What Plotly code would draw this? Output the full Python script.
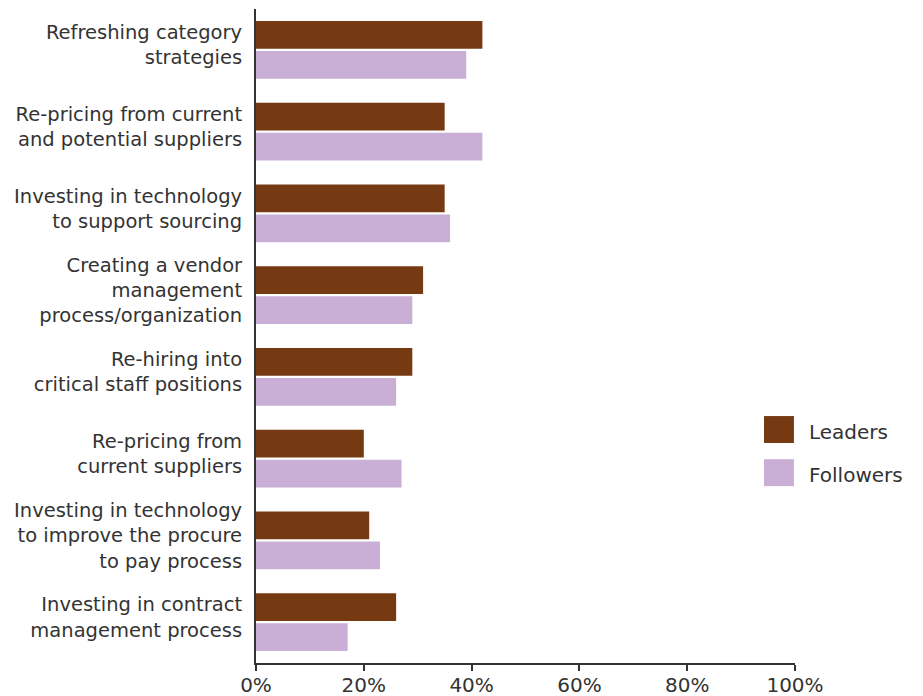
import plotly.graph_objects as go

categories = [
    "Refreshing category<br>strategies",
    "Re-pricing from current<br>and potential suppliers",
    "Investing in technology<br>to support sourcing",
    "Creating a vendor<br>management<br>process/organization",
    "Re-hiring into<br>critical staff positions",
    "Re-pricing from<br>current suppliers",
    "Investing in technology<br>to improve the procure<br>to pay process",
    "Investing in contract<br>management process",
]
leaders = [42, 35, 35, 31, 29, 20, 21, 26]
followers = [39, 42, 36, 29, 26, 27, 23, 17]
x_ticks = [0, 20, 40, 60, 80, 100]
x_tick_labels = ["0%", "20%", "40%", "60%", "80%", "100%"]

LEADERS_COLOR = "#763A12"
FOLLOWERS_COLOR = "#C9AFD5"
TEXT_COLOR = "#333333"
FONT = "DejaVu Sans"

fig = go.Figure()
fig.add_trace(go.Bar(name="Leaders", y=categories, x=leaders, orientation="h",
                     marker=dict(color=LEADERS_COLOR, line=dict(width=0)),
                     showlegend=False))
fig.add_trace(go.Bar(name="Followers", y=categories, x=followers, orientation="h",
                     marker=dict(color=FOLLOWERS_COLOR, line=dict(width=0)),
                     showlegend=False))

# Legend drawn as large swatches with labels, to the right of the bars
legend_items = [("Leaders", LEADERS_COLOR, 0.357), ("Followers", FOLLOWERS_COLOR, 0.291)]
for label, color, yc in legend_items:
    fig.add_shape(type="rect", xref="paper", yref="paper",
                  x0=0.9425, x1=0.998, y0=yc - 0.0206, y1=yc + 0.0206,
                  fillcolor=color, line=dict(width=0))
    fig.add_annotation(xref="paper", yref="paper", x=1.022, y=yc, yshift=-2,
                       text=label, showarrow=False,
                       xanchor="left", yanchor="middle",
                       font=dict(family=FONT, size=20, color=TEXT_COLOR))

fig.update_layout(
    width=923, height=696,
    margin=dict(l=256, r=128, t=9, b=33, autoexpand=False),
    paper_bgcolor="white", plot_bgcolor="white",
    barmode="group", bargap=0.267, bargroupgap=0.067,
    font=dict(family=FONT, size=19.5, color=TEXT_COLOR),
    xaxis=dict(range=[0, 100], tickvals=x_ticks, ticktext=x_tick_labels,
               showgrid=False, zeroline=False, showline=True,
               linecolor=TEXT_COLOR, linewidth=2, ticks="outside",
               ticklen=6, tickwidth=2, tickcolor=TEXT_COLOR,
               ticklabelstandoff=-3,
               tickfont=dict(family=FONT, size=20, color=TEXT_COLOR)),
    yaxis=dict(autorange="reversed", showgrid=False, zeroline=False,
               showline=True, linecolor=TEXT_COLOR, linewidth=2,
               ticks="", ticklabelstandoff=8, ticklabelshift=5,
               tickfont=dict(family=FONT, size=19.5, color=TEXT_COLOR)),
)

fig.write_html("out.html")
